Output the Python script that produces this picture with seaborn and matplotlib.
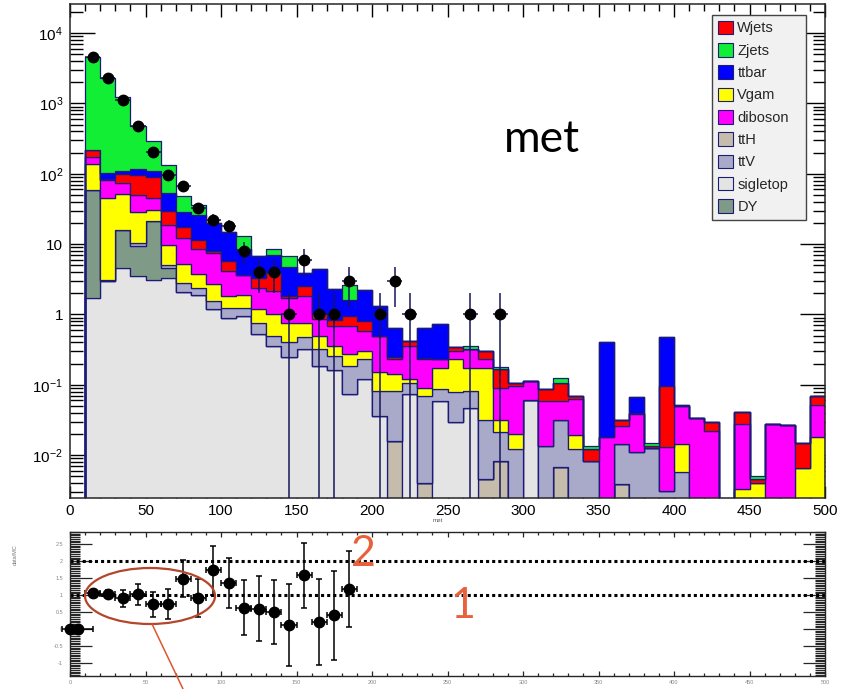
import numpy as np
import pandas as pd
import matplotlib.pyplot as plt
from matplotlib.patches import Patch, Ellipse
from matplotlib.lines import Line2D
from matplotlib.ticker import MultipleLocator, LogLocator, FuncFormatter, NullFormatter
import seaborn as sns

sns.set_style("ticks")
plt.rcParams['font.family'] = ['Liberation Sans', 'DejaVu Sans']
plt.rcParams['mathtext.default'] = 'regular'

# met bins, 10 GeV wide, lower edges 10 ... 490
bin_low = list(range(10, 500, 10))

# expected events per process (stacked bottom -> top: ttH, sigletop, DY, ttV, Vgam, diboson, Wjets, ttbar, Zjets)
ttH = [0, 0, 0, 0, 0, 0, 0, 0, 0, 0,
       0, 0, 0, 0, 0, 0, 0, 0, 0, 0,
       0.016, 0, 0.004, 0, 0, 0, 0.0046, 0.0083, 0, 0,
       0, 0.0067, 0, 0, 0, 0.0039, 0, 0, 0, 0,
       0, 0, 0, 0, 0, 0, 0, 0, 0]
sigletop = [1.73, 2.97, 4.6, 3.5, 3.1, 3.3, 2.07, 1.86, 1.2, 0.9,
            0.95, 0.52, 0.36, 0.25, 0.32, 0.185, 0.16, 0.073, 0.12, 0.036,
            0, 0.073, 0, 0.059, 0.03, 0.047, 0, 0, 0, 0.06,
            0, 0, 0, 0, 0, 0, 0, 0, 0, 0,
            0, 0, 0, 0, 0, 0, 0, 0, 0]
DY = [56.3, 0, 11.4, 6.0, 17.9, 1.3, 0, 0, 0, 0,
      0, 0, 0, 0, 0, 0, 0, 0, 0, 0,
      0, 0, 0, 0, 0, 0, 0, 0, 0, 0,
      0, 0, 0, 0, 0, 0, 0, 0, 0, 0,
      0, 0, 0, 0, 0, 0, 0, 0, 0]
ttV = [0, 0.1, 0.1, 0.9, 0.3, 0.5, 0.73, 0.54, 0.35, 0.34,
       0.29, 0.24, 0.14, 0.15, 0.15, 0.135, 0.1, 0.112, 0.11, 0.046,
       0.066, 0.032, 0.065, 0.028, 0.048, 0.035, 0.0274, 0.0127, 0.012, 0,
       0.0135, 0.0253, 0.012, 0.0083, 0, 0.0105, 0.011, 0.0125, 0.0031, 0.0057,
       0, 0, 0, 0, 0, 0, 0, 0, 0]
Vgam = [80, 41.9, 35.4, 18.4, 9.7, 4.5, 2.5, 1.3, 1.15, 0.58,
        0.62, 0.42, 0.5, 0.35, 0.29, 0.17, 0.095, 0.085, 0.07, 0.068,
        0.058, 0.015, 0.022, 0.088, 0.152, 0.093, 0.143, 0.011, 0.008, 0,
        0, 0, 0.007, 0, 0, 0, 0, 0, 0, 0.0087,
        0, 0, 0, 0.0033, 0.004, 0, 0, 0.0065, 0.018]
diboson = [35, 37, 22.5, 21, 14, 9.4, 6.9, 4.7, 4.8, 2.28,
           1.74, 1.22, 1.14, 0.95, 1.06, 0.36, 0.325, 0.41, 0.28, 0.34,
           0.095, 0.235, 0.139, 0.055, 0.07, 0.145, 0.055, 0.059, 0.075, 0.053,
           0.0455, 0.027, 0.044, 0, 0.018, 0.0116, 0.027, 0, 0.0099, 0.0356,
           0.034, 0.022, 0, 0.0242, 0, 0.028, 0.027, 0, 0.033]
Wjets = [42, 3, 26, 47, 44, 11, 5.3, 2.9, 0.4, 1.7,
         0, 0.9, 1.76, 0.1, 0.68, 0.15, 0.15, 0.27, 0.22, 0,
         0.015, 0.065, 0.01, 0, 0.04, 0, 0.07, 0.079, 0.01, 0,
         0.028, 0.048, 0.006, 0.0037, 0, 0.006, 0.001, 0.001, 0.083, 0,
         0, 0.008, 0, 0.0135, 0.0006, 0, 0, 0.0085, 0.018]
ttbar = [0, 17, 11, 20, 19, 23, 11.5, 14.7, 12.1, 9.2,
         4.8, 3.4, 3.2, 3.0, 1.4, 3.45, 1.47, 0.68, 1.46, 0.82,
         0.4, 0, 0.41, 0.49, 0, 0, 0, 0, 0, 0,
         0, 0, 0, 0, 0.382, 0, 0.027, 0, 0.374, 0.001,
         0, 0, 0, 0, 0, 0, 0, 0, 0]
Zjets = [4385, 2218, 1139, 363, 186, 81, 19, 10, 0, 0,
         4.5, 0, 1.3, 1.9, 0, 0, 0, 0.97, 0, 0,
         0, 0, 0, 0, 0, 0.035, 0, 0.01, 0, 0,
         0, 0.019, 0, 0.0015, 0, 0, 0, 0.0015, 0, 0,
         0, 0, 0, 0, 0.0004, 0, 0, 0, 0]

# observed data (bin centres and counts)
data_x = [15, 25, 35, 45, 55, 65, 75, 85, 95, 105, 115, 125, 135, 145, 155, 165, 175, 185,
          205, 215, 225, 265, 285]
data_n = [4610, 2320, 1120, 480, 207, 97, 66, 33, 22, 18, 8, 4, 4, 1, 6, 1, 1, 3,
          1, 3, 1, 1, 1]

# data/MC ratio panel
ratio_x = [0, 5, 15, 25, 35, 45, 55, 65, 75, 85, 95, 105, 115, 125, 135, 145, 155, 165, 175, 185]
ratio_y = [0, 0, 1.06, 1.03, 0.9, 1.02, 0.73, 0.73, 1.48, 0.9, 1.72, 1.35, 0.63, 0.6, 0.5,
           0.12, 1.58, 0.2, 0.4, 1.18]
ratio_err = [0, 0, 0.1, 0.12, 0.25, 0.3, 0.37, 0.44, 0.55, 0.56, 0.73, 0.73, 0.8, 0.95, 0.94,
             1.2, 0.95, 1.26, 1.3, 1.12]
ratio_xerr = [0, 10] + [5] * 18

procs = {'ttH': ttH, 'sigletop': sigletop, 'DY': DY, 'ttV': ttV, 'Vgam': Vgam,
         'diboson': diboson, 'Wjets': Wjets, 'ttbar': ttbar, 'Zjets': Zjets}
colors = {'Wjets': '#ff0000', 'Zjets': '#11ee33', 'ttbar': '#0000ff', 'Vgam': '#ffff00',
          'diboson': '#ff00ff', 'ttH': '#c6bcac', 'ttV': '#a9a9c9', 'sigletop': '#e4e4e4',
          'DY': '#809a88'}
legend_order = ['Wjets', 'Zjets', 'ttbar', 'Vgam', 'diboson', 'ttH', 'ttV', 'sigletop', 'DY']
# seaborn puts the first hue level on top of the stack
stack_top_down = ['Zjets', 'ttbar', 'Wjets', 'diboson', 'Vgam', 'ttV', 'DY', 'sigletop', 'ttH']

rows = []
for name, vals in procs.items():
    for lo, v in zip(bin_low, vals):
        rows.append({'met': lo + 5, 'events': v, 'process': name})
df = pd.DataFrame(rows)

edge = '#1c1c78'
fig = plt.figure(figsize=(8.48, 6.89), dpi=100)
ax = fig.add_axes([70 / 848, 1 - 498 / 689, 755 / 848, 494 / 689])
rax = fig.add_axes([70 / 848, 1 - 676 / 689, 755 / 848, 144 / 689])

sns.histplot(data=df, x='met', weights='events', hue='process', hue_order=stack_top_down,
             binwidth=10, binrange=(0, 500), multiple='stack', element='step', fill=True,
             palette=colors, alpha=1, edgecolor=edge, linewidth=0.9, legend=False, ax=ax)

ax.set_yscale('log')
ax.set_xlim(0, 500)
ax.set_ylim(0.00245, 2.6e4)

# data points with poisson errors
data_err = np.sqrt(data_n)
ax.errorbar(data_x, data_n, yerr=data_err, xerr=5, fmt='o', color='black', ms=7.5,
            ecolor='#16165e', elinewidth=1.1, capsize=0, zorder=6)

ax.set_xlabel('')
ax.set_ylabel('')
ax.xaxis.set_major_locator(MultipleLocator(50))
ax.xaxis.set_minor_locator(MultipleLocator(10))
ax.yaxis.set_major_locator(LogLocator(base=10, numticks=20))
ax.yaxis.set_minor_locator(LogLocator(base=10, subs=np.arange(2, 10), numticks=20))
ax.yaxis.set_minor_formatter(NullFormatter())


def log_label(v, pos):
    e = int(round(np.log10(v)))
    if e == 0:
        return '1'
    if e == 1:
        return '10'
    return '$10^{%d}$' % e


ax.yaxis.set_major_formatter(FuncFormatter(log_label))
ax.tick_params(axis='both', which='both', direction='in', top=True, right=True,
               labelsize=11, width=1, colors='black')
ax.tick_params(axis='y', which='major', length=18, pad=5)
ax.tick_params(axis='y', which='minor', length=9)
ax.tick_params(axis='x', which='major', length=9, pad=4)
ax.tick_params(axis='x', which='minor', length=5)
for s in ax.spines.values():
    s.set_linewidth(1.1)

handles = [Patch(facecolor=colors[n], edgecolor=edge, linewidth=0.8) for n in legend_order]
leg = ax.legend(handles, legend_order, loc='upper left', bbox_to_anchor=(0.85, 0.557, 0.125, 0.421),
                mode='expand', fontsize=10.5, frameon=True, fancybox=False, framealpha=1,
                handlelength=1.05, handleheight=1.05, handletextpad=0.3, labelspacing=0.52,
                borderpad=0.4, borderaxespad=0)
leg.get_frame().set_facecolor('#f1f1f1')
leg.get_frame().set_edgecolor('#444444')
leg.get_frame().set_linewidth(1.0)

fig.text(542 / 848, 1 - 140 / 689, 'met', ha='center', va='center', fontsize=32,
         family=['Lato', 'DejaVu Sans'], color='black')
fig.text(438 / 848, 1 - 521 / 689, 'met', ha='center', va='center', fontsize=4.5, color='#555555')

# ratio panel
rax.axhline(2, color='black', lw=2.2, ls=(0, (1, 1)), zorder=1)
rax.axhline(1, color='black', lw=2.2, ls=(0, (1, 1)), zorder=1)
rax.errorbar(ratio_x, ratio_y, yerr=ratio_err, xerr=ratio_xerr, fmt='o', color='black', ms=7.5,
             ecolor='black', elinewidth=1.1, capsize=2.5, capthick=1.1, zorder=5, clip_on=False)
rax.set_xlim(0, 500)
rax.set_ylim(-1.38, 2.85)
rax.xaxis.set_major_locator(MultipleLocator(50))
rax.xaxis.set_minor_locator(MultipleLocator(10))
rax.yaxis.set_major_locator(MultipleLocator(0.5))
rax.yaxis.set_minor_locator(MultipleLocator(0.05))
rax.yaxis.set_major_formatter(FuncFormatter(lambda v, p: ('%g' % v)))
rax.tick_params(axis='both', which='both', direction='in', top=True, right=True,
                labelsize=4, labelcolor='#888888', width=0.9)
rax.tick_params(axis='y', which='major', length=16, pad=5)
rax.tick_params(axis='y', which='minor', length=7)
rax.tick_params(axis='x', which='major', length=3.5, pad=3)
rax.tick_params(axis='x', which='minor', length=2)
for s in rax.spines.values():
    s.set_linewidth(1.0)
fig.text(15 / 848, 1 - 555 / 689, 'data/MC', rotation=90, ha='center', va='center',
         fontsize=4, color='#777777')

# hand-drawn annotations on the ratio panel
fig.text(363 / 848, 1 - 554 / 689, '2', ha='center', va='center', fontsize=31,
         family=['Lato', 'DejaVu Sans'], color='#e8603c')
fig.text(463 / 848, 1 - 606 / 689, '1', ha='center', va='center', fontsize=31,
         family=['Lato', 'DejaVu Sans'], color='#e8603c')
fig.add_artist(Ellipse((150 / 848, 1 - 596 / 689), 130 / 848, 56 / 689, transform=fig.transFigure,
                       fill=False, edgecolor='#b5452b', linewidth=1.6))
fig.add_artist(Line2D([152 / 848, 183 / 848], [1 - 624 / 689, 0], transform=fig.transFigure,
                      color='#e0552d', linewidth=1.1))

fig.savefig('out.png', dpi=100)
